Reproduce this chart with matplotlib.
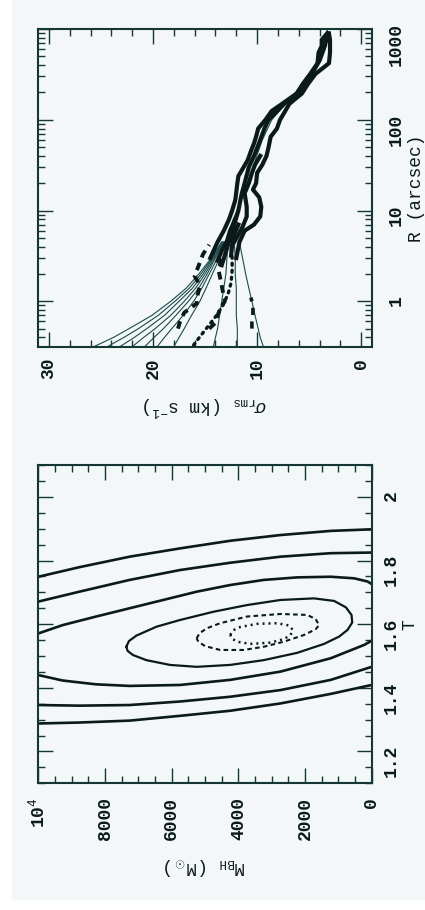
import matplotlib
matplotlib.use('Agg')
import matplotlib.pyplot as plt
from matplotlib.ticker import MultipleLocator, LogLocator, NullFormatter
from matplotlib.patches import Rectangle

plt.rcParams['font.family'] = ['Liberation Mono', 'DejaVu Sans Mono', 'DejaVu Sans']
plt.rcParams['mathtext.fontset'] = 'custom'
plt.rcParams['mathtext.rm'] = 'Liberation Mono'
plt.rcParams['mathtext.it'] = 'Liberation Mono:italic'
plt.rcParams['mathtext.bf'] = 'Liberation Mono:bold'

# ---------------- data: velocity-dispersion panel (top of picture) ----------------
R_fan = [0.316, 0.4, 0.5, 0.7, 1.0, 1.4, 2.0, 3.0, 4.5]
model_fan = [
    [25.7, 23.8, 22.3, 20.1, 18.3, 16.8, 15.6, 14.4, 13.4],
    [24.4, 22.8, 21.4, 19.5, 17.9, 16.5, 15.4, 14.3, 13.4],
    [23.2, 21.8, 20.6, 18.9, 17.5, 16.2, 15.2, 14.2, 13.3],
    [22.0, 20.9, 19.8, 18.3, 17.0, 15.9, 15.0, 14.1, 13.3],
    [20.8, 19.9, 19.0, 17.8, 16.6, 15.6, 14.8, 14.0, 13.2],
    [19.6, 18.9, 18.2, 17.1, 16.1, 15.3, 14.6, 13.8, 13.2],
    [18.0, 17.5, 17.0, 16.3, 15.5, 14.9, 14.3, 13.6, 13.1],
    [14.2, 14.0, 13.8, 13.6, 13.4, 13.2, 13.0, 12.9, 12.8],
    [11.9, 11.9, 11.9, 12.0, 12.0, 12.0, 12.1, 12.1, 12.2],
    [9.4, 9.7, 9.9, 10.2, 10.5, 10.8, 11.1, 11.4, 11.7],
]
R_tail = [4.5, 8, 15, 30, 60, 100, 200, 400, 1000]
sig_tail = [13.0, 12.3, 11.3, 10.4, 9.5, 8.6, 6.3, 4.4, 3.2]

R_dot = [0.33, 0.38, 0.45, 0.55, 0.7, 0.9, 1.2, 1.6, 2.2, 3.0, 4.0]
sig_dot = [16.1, 15.7, 15.2, 14.6, 13.9, 13.3, 12.8, 12.5, 12.4, 12.4, 12.5]

R_d1 = [0.5, 0.6, 0.75, 0.95, 1.2, 1.5, 1.9, 2.5, 3.3, 4.2]
sig_d1 = [17.6, 17.4, 17.0, 15.8, 15.7, 15.5, 16.0, 15.6, 15.2, 14.6]
R_d2 = [0.5, 0.58, 0.7, 0.85, 1.0, 1.3, 1.7, 2.2, 3.0]
sig_d2 = [14.6, 14.0, 13.8, 13.5, 13.1, 13.3, 13.5, 13.7, 13.4]
R_d4 = [0.5, 0.6, 0.75, 0.9, 1.1]
sig_d4 = [10.5, 10.5, 10.4, 10.4, 10.6]

R_bA = [3.0, 4.5, 6, 8, 10, 13, 16, 20, 24, 30, 36, 45, 55, 65, 80, 100, 125, 150, 195, 250, 320, 420, 550, 650, 760, 890]
sig_bA = [14.5, 13.8, 13.2, 12.7, 12.4, 12.1, 12.0, 11.9, 11.8, 11.3, 10.9, 10.6, 10.3, 10.1, 9.9, 9.2, 8.6, 7.6, 6.2, 5.6, 4.9, 4.2, 4.1, 3.8, 3.8, 3.3]
R_bB = [3.0, 4.5, 6, 7, 8.6, 11, 14, 17, 20, 26, 32, 40, 50, 65, 80, 100, 125, 150, 195, 250, 320, 420, 550, 650, 760, 890]
sig_bB = [12.0, 11.7, 11.2, 10.3, 9.7, 9.6, 9.8, 10.4, 10.1, 10.0, 9.5, 9.1, 8.9, 8.7, 8.1, 7.8, 7.3, 6.9, 5.7, 5.1, 4.4, 3.1, 3.0, 3.0, 3.0, 3.1]
R_bC = [2.5, 3.5, 5, 7, 10, 15, 20, 30, 40, 60, 80, 100, 150, 200, 300, 450, 650, 900]
sig_bC = [13.4, 13.0, 12.6, 12.2, 11.8, 11.5, 11.2, 10.8, 10.3, 9.7, 9.3, 8.9, 7.4, 6.0, 4.9, 4.0, 3.5, 3.2]
R_bD = [2.8, 3.6, 4.6, 6, 8]
sig_bD = [13.8, 13.4, 12.9, 12.6, 12.1]
R_bE = [3.2, 4.2, 5.5, 7]
sig_bE = [12.5, 12.4, 12.2, 11.8]
R_bG = [4.5, 6.6, 8.6, 11, 15.5, 20, 26, 32, 40]
sig_bG = [12.2, 11.4, 11.0, 11.0, 11.2, 10.8, 10.5, 10.2, 9.7]

sig_ticks = [30, 20, 10, 0]
sig_ticklabels = ['30', '20', '10', '0']
R_ticks = [1, 10, 100, 1000]
R_ticklabels = ['1', '10', '100', '1000']

# ---------------- data: M_BH - Upsilon contour panel (bottom of picture) ----------------
M_AB = [10000, 8773, 7264, 5755, 4245, 2736, 1227, 0]
T_A_up = [1.749, 1.779, 1.812, 1.838, 1.862, 1.880, 1.893, 1.898]
T_A_lo = [1.288, 1.291, 1.297, 1.312, 1.328, 1.351, 1.381, 1.409]
T_B_up = [1.671, 1.702, 1.739, 1.770, 1.793, 1.812, 1.823, 1.825]
T_B_lo = [1.346, 1.344, 1.346, 1.357, 1.372, 1.393, 1.425, 1.466]
M_C_up = [10000, 9276, 8270, 7264, 6258, 5252, 4245, 3239, 2233, 1227, 523, 121, 0]
T_C_up = [1.571, 1.597, 1.624, 1.650, 1.676, 1.702, 1.723, 1.739, 1.747, 1.749, 1.744, 1.734, 1.726]
M_C_lo = [10000, 9276, 8270, 7264, 5755, 4245, 2736, 1227, 221, 0]
T_C_lo = [1.440, 1.423, 1.411, 1.406, 1.409, 1.425, 1.451, 1.493, 1.535, 1.548]
M_D = [7364, 7284, 7062, 6459, 5755, 4749, 3742, 2736, 1730, 1127, 775, 604, 584, 724, 976,
       1429, 2233, 3239, 4245, 5252, 6056, 6761, 7163, 7324, 7364]
T_D = [1.529, 1.547, 1.564, 1.592, 1.613, 1.639, 1.660, 1.676, 1.681, 1.673, 1.653, 1.629, 1.605, 1.582, 1.561,
       1.538, 1.510, 1.487, 1.472, 1.466, 1.472, 1.487, 1.503, 1.516, 1.529]
M_E = [5252, 5171, 4950, 4547, 3742, 2736, 1932, 1680, 1579, 1680, 2032, 2636, 3239, 3843, 4547, 5000, 5201, 5252]
T_E = [1.555, 1.571, 1.587, 1.603, 1.624, 1.632, 1.629, 1.616, 1.597, 1.584, 1.566, 1.545, 1.529, 1.519, 1.519, 1.531, 1.545, 1.555]
M_F = [4245, 4165, 3994, 3441, 2837, 2485, 2364, 2435, 2636, 3038, 3642, 4044, 4195, 4245]
T_F = [1.566, 1.580, 1.590, 1.601, 1.603, 1.596, 1.582, 1.566, 1.553, 1.542, 1.538, 1.545, 1.555, 1.566]

M_ticks = [10000, 8000, 6000, 4000, 2000, 0]
M_ticklabels = ['10$^4$', '8000', '6000', '4000', '2000', '0']
T_ticks = [1.2, 1.4, 1.6, 1.8, 2.0]
T_ticklabels = ['1.2', '1.4', '1.6', '1.8', '2']

# ---------------- styling ----------------
INK = '#0a1a1a'
FRAME = '#143636'
THIN = '#1d4a4a'
BG = '#f3f7f7'

fig = plt.figure(figsize=(4.25, 9.10), dpi=100)
fig.patch.set_facecolor('white')
fig.patches.append(Rectangle((0.028, 0.011), 0.972, 0.989, transform=fig.transFigure,
                             facecolor=BG, edgecolor='none', zorder=-10))

ax1 = fig.add_axes([0.0905, 0.6190, 0.7840, 0.3491])
ax2 = fig.add_axes([0.0905, 0.1392, 0.7840, 0.3498])


def style(ax, xpad, ypad):
    ax.set_facecolor('none')
    for sp in ax.spines.values():
        sp.set_linewidth(1.5)
        sp.set_color(FRAME)
    ax.tick_params(which='both', direction='in', top=True, bottom=True, left=True, right=True,
                   labelleft=False, labelright=True, labelbottom=True, labeltop=False,
                   color=FRAME, width=1.0, labelsize=13, labelcolor=INK)
    ax.tick_params(which='major', length=11)
    ax.tick_params(which='minor', length=5)
    ax.tick_params(axis='x', labelrotation=90, pad=xpad)
    ax.tick_params(axis='y', labelrotation=90, pad=ypad)
    for lab in ax.get_xticklabels() + ax.get_yticklabels():
        lab.set_fontweight('bold')


# ---- top panel: sigma_rms (horizontal, reversed) vs R (vertical, log) ----
ax1.set_yscale('log')
for sig in model_fan:
    ax1.plot(sig, R_fan, color=THIN, lw=0.8, zorder=2)
ax1.plot(sig_tail, R_tail, color=THIN, lw=0.8, zorder=2)
ax1.plot(sig_dot, R_dot, color=INK, lw=2.4, ls=(0, (0.6, 1.5)), dash_capstyle='round', zorder=3)
ax1.plot(sig_d1, R_d1, color=INK, lw=2.8, ls=(0, (2.0, 1.5)), zorder=3)
ax1.plot(sig_d2, R_d2, color=INK, lw=2.8, ls=(0, (2.0, 1.5)), zorder=3)
ax1.plot(sig_d4, R_d4, color=INK, lw=2.6, ls=(0, (2.0, 1.8)), zorder=3)
for s, r in [(sig_bA, R_bA), (sig_bB, R_bB), (sig_bC, R_bC), (sig_bD, R_bD), (sig_bE, R_bE),
             (sig_bG, R_bG)]:
    ax1.plot(s, r, color=INK, lw=3.0, zorder=3)
ax1.set_xlim(31, -1)
ax1.set_ylim(10 ** -0.5, 1000)
ax1.set_xticks(sig_ticks, labels=sig_ticklabels)
ax1.xaxis.set_minor_locator(MultipleLocator(2))
ax1.set_yticks(R_ticks, labels=R_ticklabels)
ax1.yaxis.set_minor_locator(LogLocator(base=10, subs=[2, 3, 4, 5, 6, 7, 8, 9]))
ax1.yaxis.set_minor_formatter(NullFormatter())
style(ax1, 8, 11.5)
ax1.set_xlabel(r'$\sigma_{\rm rms}$ (km s$^{-1}$)', rotation=180, va='bottom', ha='center',
               rotation_mode='anchor', fontsize=13, color=INK)
ax1.xaxis.set_label_coords(0.5, -0.15)
ax1.yaxis.set_label_position('right')
ax1.set_ylabel('R (arcsec)', rotation=90, fontsize=13, color=INK)
ax1.yaxis.set_label_coords(1.108, 0.5)

# ---- bottom panel: M_BH (horizontal, reversed) vs Upsilon (vertical) ----
for M, T in [(M_AB, T_A_up), (M_AB, T_A_lo), (M_AB, T_B_up), (M_AB, T_B_lo),
             (M_C_up, T_C_up), (M_C_lo, T_C_lo)]:
    ax2.plot(M, T, color=INK, lw=1.9)
ax2.plot(M_D, T_D, color=INK, lw=1.6)
ax2.plot(M_E, T_E, color=INK, lw=1.5, ls=(0, (2.2, 1.6)))
ax2.plot(M_F, T_F, color=INK, lw=1.8, ls=(0, (0.8, 1.6)))
ax2.set_xlim(10000, 0)
ax2.set_ylim(1.1, 2.1)
ax2.set_xticks(M_ticks, labels=M_ticklabels)
ax2.xaxis.set_minor_locator(MultipleLocator(500))
ax2.set_yticks(T_ticks, labels=T_ticklabels)
ax2.yaxis.set_minor_locator(MultipleLocator(0.05))
style(ax2, 10, 8)
ax2.set_xlabel(r'M$_{\rm BH}$ (M$_\odot$)', rotation=180, va='bottom', ha='center',
               rotation_mode='anchor', fontsize=13, color=INK)
ax2.xaxis.set_label_coords(0.5, -0.228)
ax2.yaxis.set_label_position('right')
ax2.set_ylabel('T', rotation=90, fontsize=13, color=INK)
ax2.yaxis.set_label_coords(1.09, 0.5)

fig.savefig('out.png', dpi=100, facecolor=fig.get_facecolor())
